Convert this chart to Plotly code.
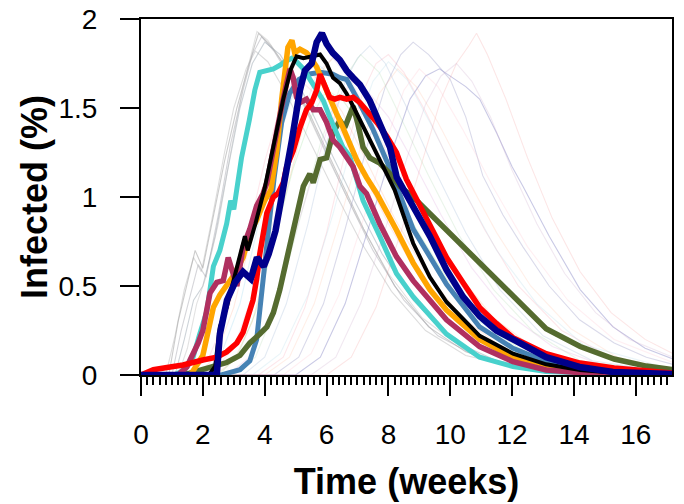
import plotly.graph_objects as go

# ---------------- thick (highlighted) epidemic curves ----------------
weeks_navy = [0, 2.45, 2.55, 2.78, 3.04, 3.3, 3.55, 3.75, 3.97, 4.13, 4.35, 4.55, 4.65, 4.88, 5.14, 5.3,
              5.52, 5.68, 5.85, 6.0, 6.1, 6.2, 6.43, 6.65, 6.86, 7.08, 7.4, 7.72, 8.05, 8.27, 9.34,
              9.88, 10.41, 10.95, 11.49, 12.03, 13.1, 14.18, 15.26, 17.2]
pct_navy = [0, 0, 0.23, 0.42, 0.52, 0.58, 0.54, 0.66, 0.61, 0.68, 0.81, 0.98, 1.1, 1.32, 1.6, 1.71,
            1.75, 1.87, 1.92, 1.86, 1.83, 1.81, 1.77, 1.71, 1.67, 1.63, 1.54, 1.42, 1.28, 1.11, 0.78,
            0.59, 0.44, 0.33, 0.25, 0.2, 0.1, 0.045, 0.017, 0.005]

weeks_cyan = [0, 1.1, 1.4, 1.65, 1.9, 2.13, 2.34, 2.55, 2.77, 2.9, 3.0, 3.1, 3.25, 3.5, 3.68, 3.84, 4.07,
              4.28, 4.49, 4.65, 4.88, 5.03, 5.25, 5.46, 5.68, 5.9, 6.1, 6.32, 6.53, 6.75, 6.97, 7.18,
              7.72, 8.26, 8.8, 9.34, 9.88, 10.95, 12.03, 13.1, 14.2, 15.5, 17.2]
pct_cyan = [0, 0, 0.03, 0.08, 0.23, 0.36, 0.61, 0.70, 0.85, 0.98, 0.93, 1.06, 1.22, 1.43, 1.60, 1.70, 1.71,
            1.72, 1.74, 1.76, 1.78, 1.76, 1.72, 1.66, 1.60, 1.54, 1.45, 1.36, 1.28, 1.23, 1.11, 0.98,
            0.78, 0.57, 0.44, 0.33, 0.23, 0.10, 0.047, 0.02, 0.01, 0.004, 0]

weeks_maroon = [0, 1.2, 1.48, 1.69, 1.85, 2.0, 2.23, 2.45, 2.66, 2.82, 2.98, 3.1, 3.3, 3.52, 3.74, 3.95,
                4.07, 4.23, 4.39, 4.55, 4.71, 4.82, 4.92, 5.03, 5.14, 5.35, 5.57, 5.79, 6.0, 6.21, 6.43,
                6.65, 6.86, 7.08, 7.29, 7.72, 8.26, 8.8, 9.34, 9.88, 10.95, 12.03, 13.1, 14.2, 15.3, 17.2]
pct_maroon = [0, 0, 0.045, 0.12, 0.18, 0.25, 0.46, 0.52, 0.53, 0.66, 0.57, 0.50, 0.72, 0.82, 0.95, 1.02,
              1.08, 1.23, 1.39, 1.51, 1.64, 1.72, 1.67, 1.56, 1.53, 1.55, 1.49, 1.49, 1.42, 1.32, 1.28,
              1.22, 1.17, 1.06, 1.02, 0.85, 0.665, 0.53, 0.42, 0.31, 0.16, 0.075, 0.028, 0.013, 0.006, 0]

weeks_orange = [0, 1.6, 2.0, 2.23, 2.34, 2.55, 2.77, 3.0, 3.3, 3.52, 3.74, 4.0, 4.2, 4.39, 4.55, 4.65,
                4.75, 4.88, 4.97, 5.14, 5.35, 5.46, 5.68, 5.9, 6.1, 6.32, 6.53, 6.75, 6.97, 7.29, 7.62,
                8.26, 8.8, 9.34, 9.88, 10.95, 12.03, 13.1, 14.2, 15.3, 17.2]
pct_orange = [0, 0, 0.11, 0.28, 0.38, 0.45, 0.51, 0.56, 0.66, 0.80, 0.87, 0.98, 1.04, 1.26, 1.55, 1.69,
              1.84, 1.88, 1.81, 1.83, 1.81, 1.79, 1.73, 1.64, 1.55, 1.47, 1.39, 1.30, 1.21, 1.11, 1.02,
              0.815, 0.63, 0.48, 0.365, 0.2, 0.1, 0.047, 0.02, 0.01, 0]

weeks_black = [0, 2.2, 2.4, 2.55, 2.77, 2.98, 3.2, 3.36, 3.45, 3.7, 4.0, 4.3, 4.6, 4.85, 5.03, 5.25, 5.57,
               5.79, 6.0, 6.21, 6.43, 6.65, 6.86, 7.08, 7.29, 7.5, 7.8, 8.2, 8.8, 9.34, 9.88, 10.95,
               12.03, 13.1, 14.2, 15.3, 17.2]
pct_black = [0, 0, 0.05, 0.27, 0.38, 0.52, 0.66, 0.78, 0.70, 0.85, 1.05, 1.3, 1.55, 1.72, 1.79, 1.78, 1.79,
             1.80, 1.75, 1.67, 1.64, 1.58, 1.51, 1.43, 1.36, 1.28, 1.18, 1.04, 0.74, 0.55, 0.41, 0.22,
             0.12, 0.06, 0.028, 0.013, 0.005]

weeks_steel = [0, 2.6, 3.2, 3.52, 3.74, 3.9, 4.1, 4.3, 4.55, 4.8, 5.1, 5.4, 5.8, 6.2, 6.43, 6.65, 7.0,
               7.5, 8.0, 8.8, 9.34, 9.88, 10.95, 12.03, 13.1, 14.2, 15.3, 17.2]
pct_steel = [0, 0, 0.03, 0.08, 0.2, 0.45, 0.8, 1.1, 1.42, 1.58, 1.66, 1.69, 1.70, 1.69, 1.67, 1.66, 1.55,
             1.38, 1.18, 0.82, 0.665, 0.51, 0.27, 0.15, 0.075, 0.037, 0.015, 0.004]

weeks_red = [0, 0.4, 0.94, 1.36, 2.0, 2.45, 2.77, 3.1, 3.3, 3.42, 3.52, 3.62, 3.74, 3.84, 4.07, 4.28, 4.43,
             4.6, 4.71, 4.92, 5.14, 5.35, 5.52, 5.68, 5.79, 5.95, 6.1, 6.27, 6.43, 6.65, 6.86, 7.08, 7.29,
             7.62, 7.95, 8.26, 8.58, 9.34, 9.88, 10.41, 10.95, 11.49, 12.03, 13.1, 14.2, 15.3, 17.2]
pct_red = [0, 0.03, 0.045, 0.056, 0.084, 0.1, 0.13, 0.18, 0.24, 0.3, 0.37, 0.42, 0.54, 0.68, 0.91, 1.0, 1.02,
           1.08, 1.17, 1.26, 1.39, 1.49, 1.53, 1.60, 1.69, 1.62, 1.56, 1.55, 1.56, 1.55, 1.56, 1.53, 1.49,
           1.42, 1.34, 1.25, 1.10, 0.85, 0.66, 0.52, 0.38, 0.29, 0.21, 0.12, 0.067, 0.04, 0.01]

weeks_green = [0, 1.0, 1.58, 2.23, 2.77, 3.2, 3.52, 3.84, 4.07, 4.28, 4.49, 4.71, 4.92, 5.14, 5.25, 5.46,
               5.57, 5.79, 6.0, 6.21, 6.43, 6.59, 6.75, 6.86, 7.0, 7.18, 7.4, 7.72, 8.05, 8.37, 8.8, 9.88,
               10.95, 12.03, 13.1, 14.2, 15.3, 16.34, 17.2]
pct_green = [0, 0, 0.01, 0.04, 0.07, 0.11, 0.18, 0.23, 0.27, 0.35, 0.48, 0.65, 0.81, 0.98, 1.06, 1.13,
             1.08, 1.21, 1.22, 1.36, 1.43, 1.39, 1.47, 1.51, 1.42, 1.28, 1.22, 1.19, 1.13, 1.06, 1.0, 0.815,
             0.627, 0.44, 0.26, 0.16, 0.09, 0.05, 0.03]

# ---------------- faint background curves ----------------
faint_g1_w = [0, 0.9, 1.2, 1.5, 1.75, 2.0, 2.3, 2.7, 3.1, 3.5, 3.8, 4.2, 4.8, 5.5, 6.3, 7.2, 8.2, 9.3, 10.5, 12, 14, 17.2]
faint_g1_p = [0, 0, 0.3, 0.52, 0.7, 0.6, 0.85, 1.2, 1.5, 1.75, 1.92, 1.85, 1.7, 1.45, 1.15, 0.82, 0.5, 0.27, 0.13, 0.05, 0.015, 0]
faint_g2_w = [0, 1.0, 1.3, 1.6, 1.85, 2.1, 2.5, 2.9, 3.3, 3.6, 3.9, 4.3, 5.0, 5.8, 6.6, 7.5, 8.5, 9.6, 11, 13, 17.2]
faint_g2_p = [0, 0, 0.25, 0.45, 0.62, 0.55, 0.9, 1.3, 1.6, 1.8, 1.9, 1.82, 1.62, 1.32, 1.02, 0.7, 0.42, 0.22, 0.09, 0.03, 0]
faint_g3_w = [0, 1.1, 1.4, 1.7, 2.0, 2.4, 2.8, 3.2, 3.6, 4.0, 4.5, 5.2, 6.0, 6.9, 7.8, 8.8, 10, 11.5, 13.5, 17.2]
faint_g3_p = [0, 0, 0.2, 0.42, 0.5, 0.78, 1.15, 1.5, 1.75, 1.87, 1.8, 1.6, 1.3, 0.98, 0.68, 0.42, 0.2, 0.08, 0.02, 0]
faint_g4_w = [0, 0.8, 1.1, 1.4, 1.7, 1.95, 2.3, 2.7, 3.0, 3.4, 3.7, 4.1, 4.7, 5.4, 6.2, 7.1, 8.1, 9.2, 10.5, 12.5, 17.2]
faint_g4_p = [0, 0, 0.22, 0.48, 0.66, 0.58, 0.88, 1.25, 1.5, 1.72, 1.82, 1.76, 1.58, 1.33, 1.05, 0.75, 0.47, 0.25, 0.11, 0.03, 0]
faint_g5_w = [0, 1.2, 1.5, 1.8, 2.1, 2.5, 2.9, 3.3, 3.75, 4.1, 4.6, 5.3, 6.1, 7.0, 8.0, 9.1, 10.4, 12, 14, 17.2]
faint_g5_p = [0, 0, 0.15, 0.4, 0.55, 0.85, 1.25, 1.62, 1.93, 1.88, 1.75, 1.5, 1.2, 0.88, 0.57, 0.32, 0.15, 0.05, 0.015, 0]

faint_m1_w = [0, 1.5, 2.2, 2.8, 3.4, 4.0, 4.5, 5.0, 5.5, 6.2, 7.0, 8.0, 9.0, 10.2, 11.5, 13, 15, 17.2]
faint_m1_p = [0, 0, 0.1, 0.35, 0.75, 1.2, 1.5, 1.68, 1.6, 1.45, 1.2, 0.85, 0.55, 0.3, 0.14, 0.05, 0.01, 0]
faint_m2_w = [0, 2.0, 2.6, 3.2, 3.8, 4.4, 5.0, 5.6, 6.2, 6.9, 7.7, 8.6, 9.6, 10.8, 12.2, 14, 17.2]
faint_m2_p = [0, 0, 0.12, 0.4, 0.85, 1.3, 1.62, 1.76, 1.68, 1.5, 1.22, 0.88, 0.58, 0.32, 0.14, 0.04, 0]
faint_m3_w = [0, 2.4, 3.0, 3.6, 4.2, 4.8, 5.4, 5.9, 6.3, 6.8, 7.5, 8.3, 9.2, 10.2, 11.4, 12.8, 14.5, 17.2]
faint_m3_p = [0, 0, 0.08, 0.3, 0.7, 1.1, 1.5, 1.72, 1.8, 1.7, 1.5, 1.2, 0.88, 0.58, 0.32, 0.14, 0.05, 0]
faint_m4_w = [0, 2.8, 3.5, 4.2, 4.9, 5.6, 6.2, 6.8, 7.3, 8.0, 8.8, 9.7, 10.7, 11.9, 13.3, 15, 17.2]
faint_m4_p = [0, 0, 0.1, 0.35, 0.75, 1.15, 1.48, 1.65, 1.6, 1.45, 1.2, 0.9, 0.6, 0.34, 0.16, 0.05, 0]
faint_m5_w = [0, 2.5, 3.1, 3.7, 4.3, 4.9, 5.5, 6.0, 6.5, 7.2, 8.0, 8.9, 9.9, 11, 12.4, 14, 17.2]
faint_m5_p = [0, 0, 0.1, 0.35, 0.75, 1.15, 1.45, 1.6, 1.55, 1.38, 1.12, 0.82, 0.54, 0.3, 0.13, 0.04, 0]
faint_m6_w = [0, 1.8, 2.4, 3.0, 3.6, 4.2, 4.8, 5.3, 5.8, 6.5, 7.3, 8.2, 9.2, 10.4, 11.8, 13.5, 17.2]
faint_m6_p = [0, 0, 0.1, 0.38, 0.8, 1.22, 1.55, 1.72, 1.65, 1.48, 1.2, 0.88, 0.58, 0.32, 0.14, 0.04, 0]

faint_l1_w = [0, 3.3, 4.0, 4.7, 5.4, 6.0, 6.6, 7.0, 7.4, 7.9, 8.6, 9.5, 10.5, 11.6, 13, 14.6, 17.2]
faint_l1_p = [0, 0, 0.1, 0.4, 0.85, 1.3, 1.65, 1.78, 1.85, 1.75, 1.5, 1.15, 0.8, 0.48, 0.22, 0.08, 0.01]
faint_l2_w = [0, 3.8, 4.6, 5.3, 6.0, 6.6, 7.2, 7.6, 8.0, 8.5, 9.2, 10.1, 11.1, 12.2, 13.6, 15.2, 17.2]
faint_l2_p = [0, 0, 0.1, 0.38, 0.8, 1.25, 1.6, 1.75, 1.8, 1.7, 1.48, 1.15, 0.82, 0.5, 0.25, 0.1, 0.03]
faint_l3_w = [0, 4.3, 5.1, 5.9, 6.6, 7.3, 7.9, 8.4, 8.8, 9.3, 10.0, 10.5, 11.05, 11.7, 12.35, 13.2, 14.18, 15.3, 16.34, 17.2]
faint_l3_p = [0, 0, 0.1, 0.4, 0.82, 1.28, 1.62, 1.8, 1.87, 1.8, 1.66, 1.45, 1.12, 0.9, 0.72, 0.5, 0.31, 0.18, 0.1, 0.06]
faint_l4_w = [0, 5.0, 5.8, 6.6, 7.4, 8.1, 8.7, 9.2, 9.65, 10.0, 10.5, 10.95, 11.5, 12.0, 12.35, 13.2, 14.2, 15.26, 16.3, 17.2]
faint_l4_p = [0, 0, 0.1, 0.4, 0.85, 1.25, 1.55, 1.68, 1.72, 1.68, 1.62, 1.55, 1.36, 1.17, 1.06, 0.78, 0.48, 0.27, 0.15, 0.09]
faint_l5_w = [0, 6.0, 6.8, 7.6, 8.4, 9.1, 9.7, 10.2, 10.6, 10.85, 11.2, 11.8, 12.5, 13.3, 14.2, 15.2, 16.3, 17.2]
faint_l5_p = [0, 0, 0.1, 0.38, 0.8, 1.2, 1.55, 1.75, 1.85, 1.92, 1.8, 1.55, 1.22, 0.88, 0.58, 0.35, 0.2, 0.12]
faint_l6_w = [0, 5.5, 6.3, 7.1, 7.9, 8.6, 9.2, 9.7, 10.2, 10.7, 11.3, 12.0, 12.8, 13.7, 14.7, 15.8, 17.2]
faint_l6_p = [0, 0, 0.1, 0.4, 0.82, 1.22, 1.52, 1.68, 1.75, 1.65, 1.45, 1.15, 0.85, 0.57, 0.35, 0.2, 0.1]
faint_l7_w = [0, 4.0, 4.8, 5.6, 6.4, 7.1, 7.7, 8.3, 8.9, 9.6, 10.5, 11.5, 12.6, 13.9, 15.4, 17.2]
faint_l7_p = [0, 0, 0.1, 0.4, 0.85, 1.28, 1.58, 1.72, 1.62, 1.42, 1.12, 0.8, 0.5, 0.26, 0.1, 0.03]
faint_l8_w = [0, 3.0, 3.7, 4.4, 5.1, 5.8, 6.5, 7.1, 7.7, 8.4, 9.3, 10.3, 11.4, 12.7, 14.2, 17.2]
faint_l8_p = [0, 0, 0.1, 0.4, 0.85, 1.3, 1.65, 1.8, 1.7, 1.45, 1.12, 0.78, 0.48, 0.24, 0.08, 0.01]
faint_l9_w = [0, 3.6, 4.5, 5.4, 6.2, 6.9, 7.5, 8.0, 8.6, 9.4, 10.4, 11.5, 12.8, 14.3, 17.2]
faint_l9_p = [0, 0, 0.12, 0.45, 0.9, 1.35, 1.65, 1.76, 1.66, 1.4, 1.05, 0.7, 0.4, 0.17, 0.03]
faint_l10_w = [0, 4.6, 5.5, 6.4, 7.2, 7.9, 8.5, 9.0, 9.6, 10.4, 11.4, 12.5, 13.8, 15.3, 17.2]
faint_l10_p = [0, 0, 0.12, 0.45, 0.88, 1.3, 1.6, 1.72, 1.62, 1.38, 1.05, 0.72, 0.42, 0.2, 0.07]
faint_l11_w = [0, 2.2, 3.0, 3.8, 4.5, 5.1, 5.7, 6.2, 6.8, 7.6, 8.6, 9.8, 11.2, 13, 17.2]
faint_l11_p = [0, 0, 0.15, 0.55, 1.0, 1.4, 1.7, 1.78, 1.65, 1.38, 1.0, 0.62, 0.32, 0.1, 0]

x_ticks = [0, 2, 4, 6, 8, 10, 12, 14, 16]
y_ticks = [0, 0.5, 1, 1.5, 2]

fig = go.Figure()

faint = [
    (faint_g1_w, faint_g1_p, "rgba(128,128,128,0.40)"),
    (faint_g2_w, faint_g2_p, "rgba(150,150,160,0.40)"),
    (faint_g3_w, faint_g3_p, "rgba(112,128,144,0.35)"),
    (faint_g4_w, faint_g4_p, "rgba(170,170,170,0.40)"),
    (faint_g5_w, faint_g5_p, "rgba(190,190,190,0.45)"),
    (faint_m1_w, faint_m1_p, "rgba(255,160,180,0.25)"),
    (faint_m2_w, faint_m2_p, "rgba(135,206,235,0.25)"),
    (faint_m3_w, faint_m3_p, "rgba(244,164,96,0.22)"),
    (faint_m4_w, faint_m4_p, "rgba(221,160,221,0.25)"),
    (faint_m5_w, faint_m5_p, "rgba(144,220,144,0.25)"),
    (faint_m6_w, faint_m6_p, "rgba(255,160,122,0.22)"),
    (faint_l1_w, faint_l1_p, "rgba(176,196,222,0.35)"),
    (faint_l2_w, faint_l2_p, "rgba(249,160,176,0.25)"),
    (faint_l3_w, faint_l3_p, "rgba(150,150,195,0.35)"),
    (faint_l4_w, faint_l4_p, "rgba(120,120,190,0.40)"),
    (faint_l5_w, faint_l5_p, "rgba(240,128,128,0.20)"),
    (faint_l6_w, faint_l6_p, "rgba(200,162,200,0.25)"),
    (faint_l7_w, faint_l7_p, "rgba(255,180,150,0.22)"),
    (faint_l8_w, faint_l8_p, "rgba(170,215,170,0.25)"),
    (faint_l9_w, faint_l9_p, "rgba(173,216,230,0.25)"),
    (faint_l10_w, faint_l10_p, "rgba(255,192,203,0.25)"),
    (faint_l11_w, faint_l11_p, "rgba(216,191,216,0.25)"),
]
for wx, py, col in faint:
    fig.add_trace(go.Scatter(x=wx, y=py, mode="lines", line=dict(color=col, width=1.1),
                             hoverinfo="skip"))

thick = [
    (weeks_steel, pct_steel, "#4682B4", 5),
    (weeks_green, pct_green, "#556B2F", 5.5),
    (weeks_cyan, pct_cyan, "#48D1CC", 5),
    (weeks_orange, pct_orange, "#FFA500", 5.5),
    (weeks_maroon, pct_maroon, "#B03060", 5.5),
    (weeks_black, pct_black, "#000000", 4),
    (weeks_red, pct_red, "#FF0000", 5.5),
    (weeks_navy, pct_navy, "#00008B", 6.5),
]
for wx, py, col, lw in thick:
    fig.add_trace(go.Scatter(x=wx, y=py, mode="lines", line=dict(color=col, width=lw)))

fig.update_layout(
    width=684, height=504,
    margin=dict(l=141, r=12, t=19, b=129),
    plot_bgcolor="white", paper_bgcolor="white",
    showlegend=False,
    font=dict(family="Liberation Sans, Arial, sans-serif", color="black"),
)
fig.update_xaxes(
    range=[0, 17.17], tickmode="array", tickvals=x_ticks, ticktext=[str(v) for v in x_ticks],
    ticks="outside", ticklen=19, tickwidth=2, tickcolor="black", ticklabelstandoff=14,
    showline=True, linewidth=2, linecolor="black", mirror=True,
    showgrid=False, zeroline=False, tickfont=dict(size=28),
    minor=dict(dtick=0.2, tick0=0, ticks="outside", ticklen=8, tickwidth=1.5, tickcolor="black", showgrid=False),
    title=dict(text="<b>Time (weeks)</b>", font=dict(size=36), standoff=20),
    automargin=False,
)
fig.update_yaxes(
    range=[0, 2], tickmode="array", tickvals=y_ticks, ticktext=["0", "0.5", "1", "1.5", "2"],
    ticks="outside", ticklen=19, tickwidth=2, tickcolor="black", ticklabelstandoff=17,
    showline=True, linewidth=2, linecolor="black", mirror=True,
    showgrid=False, zeroline=False, tickfont=dict(size=28),
    title=dict(text="<b>Infected (%)</b>", font=dict(size=36), standoff=0),
    automargin=False,
)

fig.write_html("out.html")
